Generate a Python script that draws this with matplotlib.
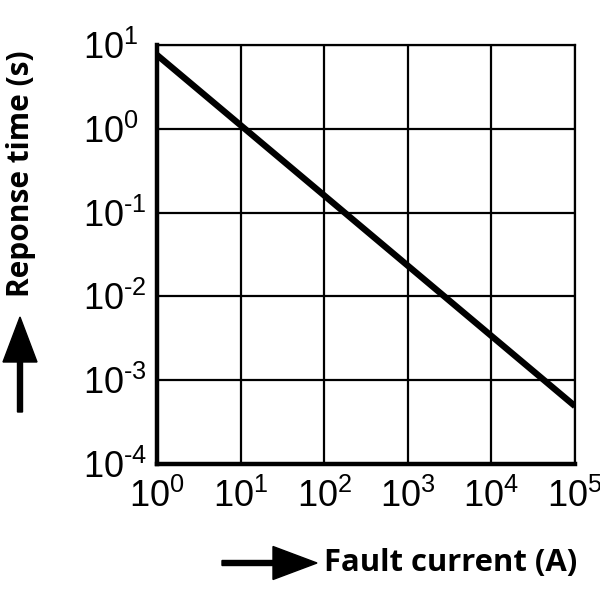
import matplotlib.pyplot as plt
from matplotlib.patches import FancyArrow

plt.rcParams['mathtext.fontset'] = 'custom'
plt.rcParams['mathtext.rm'] = 'Liberation Sans'
plt.rcParams['mathtext.it'] = 'Liberation Sans'
plt.rcParams['font.family'] = ['Liberation Sans', 'DejaVu Sans']

# Kennlinie: Fehlerstrom (A) gegen Ansprechzeit (s)
fault_current = [1, 1e5]
response_time = [7.6, 4.9e-4]

x_ticks = [1e0, 1e1, 1e2, 1e3, 1e4, 1e5]
x_tick_labels = ['$10^{0}$', '$10^{1}$', '$10^{2}$', '$10^{3}$', '$10^{4}$', '$10^{5}$']
y_ticks = [1e-4, 1e-3, 1e-2, 1e-1, 1e0, 1e1]
y_tick_labels = ['$10^{\u2010 4}$', '$10^{\u2010 3}$', '$10^{\u2010 2}$', '$10^{\u2010 1}$',
                 '$10^{0}$', '$10^{1}$']

fig = plt.figure(figsize=(6, 6), dpi=100)
ax = fig.add_axes([157 / 600, 136 / 600, 418 / 600, 419 / 600])

ax.plot(fault_current, response_time, color='black', linewidth=4.6, solid_capstyle='butt', zorder=3)
ax.set_xscale('log')
ax.set_yscale('log')
ax.set_xlim(1e0, 1e5)
ax.set_ylim(1e-4, 1e1)
ax.set_xticks(x_ticks)
ax.set_xticklabels(x_tick_labels)
ax.set_yticks(y_ticks)
ax.set_yticklabels(y_tick_labels, ha='left')
ax.minorticks_off()
ax.tick_params(length=0, labelsize=26)
ax.tick_params(axis='y', pad=53)
ax.tick_params(axis='x', pad=11)
ax.grid(True, color='black', linewidth=1.6)

for side in ['top', 'right']:
    ax.spines[side].set_linewidth(1.6)
for side in ['left', 'bottom']:
    ax.spines[side].set_linewidth(3.2)
    ax.spines[side].set_zorder(4)

fig.text(0.035, (600 - 174) / 600, 'Reponse time (s)', rotation=90, ha='center', va='center',
         family=['Open Sans', 'DejaVu Sans'], weight='bold', size=21.5)
fig.text(324 / 600, (600 - 563) / 600, 'Fault current (A)', ha='left', va='center',
         family=['Open Sans', 'DejaVu Sans'], weight='bold', size=22.3)

# Pfeile
fig.add_artist(FancyArrow(20 / 600, (600 - 412) / 600, 0, 95 / 600, width=5 / 600,
                          head_width=34 / 600, head_length=45 / 600,
                          length_includes_head=True, color='black', transform=fig.transFigure))
fig.add_artist(FancyArrow(222 / 600, (600 - 563) / 600, 95 / 600, 0, width=5 / 600,
                          head_width=33 / 600, head_length=44 / 600,
                          length_includes_head=True, color='black', transform=fig.transFigure))

fig.savefig('out.png', dpi=100)
